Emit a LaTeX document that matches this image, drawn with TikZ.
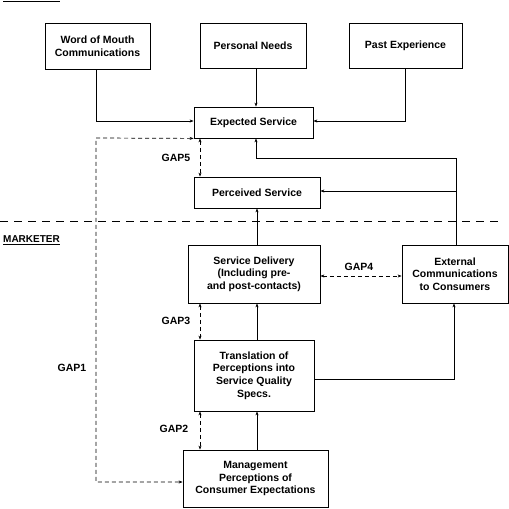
\documentclass[tikz,border=0pt]{standalone}
\usepackage{fontspec}
\setmainfont{Liberation Sans}
\usetikzlibrary{arrows.meta}
\begin{document}
\begin{tikzpicture}[x=1pt,y=-1pt,
  box/.style={draw,line width=0.8pt,align=center,inner sep=1pt,font=\fontsize{10.5}{12.7}\selectfont\bfseries},
  arr/.style={line width=0.7pt,-{Stealth[length=4pt,width=3pt]}},
  ln/.style={line width=0.7pt},
  gap/.style={line width=0.7pt,dash pattern=on 4pt off 3pt,{Stealth[length=4pt,width=3pt]}-{Stealth[length=4pt,width=3pt]}},
  lbl/.style={font=\fontsize{10.5}{11}\selectfont\bfseries}]
\useasboundingbox (0,0) rectangle (509,509);
% boxes
\node[box,minimum width=105pt,minimum height=46pt] (wom) at (97.5,46) {Word of Mouth\\Communications};
\node[box,minimum width=106pt,minimum height=45pt] (pn) at (253,45.5) {Personal Needs};
\node[box,minimum width=113pt,minimum height=45pt] (pe) at (405.5,45.5) {Past Experience};
\node[box,minimum width=119pt,minimum height=31pt] (es) at (253.5,122.5) {Expected Service};
\node[box,minimum width=126pt,minimum height=31pt] (ps) at (257,192.5) {Perceived Service};
\node[box,minimum width=132pt,minimum height=58pt] (sd) at (254,274) {Service Delivery\\(Including pre-\\and post-contacts)};
\node[box,minimum width=106pt,minimum height=58pt] (ec) at (455,274) {External\\Communications\\to Consumers};
\node[box,minimum width=120pt,minimum height=71pt] (tr) at (254,375.5) {Translation of\\Perceptions into\\Service Quality\\Specs.};
\node[box,minimum width=145pt,minimum height=57pt] (mg) at (255.5,478.5) {Management\\Perceptions of\\Consumer Expectations};
% labels
\node[lbl] (g5) at (176,158) {GAP5};
\node[lbl] (g4) at (359,267) {GAP4};
\node[lbl] (g3) at (176,321) {GAP3};
\node[lbl] (g2) at (174,429) {GAP2};
\node[lbl] (g1) at (72,368) {GAP1};
\node[lbl,anchor=west,inner sep=0pt,font=\fontsize{10}{11}\selectfont\bfseries] (mk) at (3,240) {\underline{MARKETER}};
% top-left cropped underline
\coordinate (ua) at (3,1);
\coordinate (ub) at (60,1);
\draw[line width=0.7pt] (ua) -- (ub);
% separator
\coordinate (sa) at (0,221);
\coordinate (sb) at (500,221);
\draw[line width=0.7pt,dash pattern=on 8pt off 6pt] (sa) -- (sb);
% top connectors
\draw[arr] ([xshift=-1.5pt]wom.south) |- ([yshift=1.5pt]es.west);
\draw[arr] ([xshift=3pt]pn.south) -- ([xshift=3pt]pn.south |- es.north);
\draw[arr] (pe.south) |- ([yshift=1.5pt]es.east);
% vertical chain
\coordinate (cx) at (257,0);
\draw[arr] (cx |- sd.north) -- (cx |- ps.south);
\draw[arr] (cx |- tr.north) -- (cx |- sd.south);
\draw[arr] (cx |- mg.north) -- (cx |- tr.south);
% external comms
\coordinate (ej) at (456,158);
\coordinate (ek) at (256,158);
\draw[arr] (ej |- ec.north) -- (ej) -- (ek) -- (ek |- es.south);
\coordinate (em) at (456,191);
\draw[arr] (em) -- (em -| ps.east);
\coordinate (tn) at (454,379);
\draw[arr] (tn -| tr.east) -- (tn) -- (tn |- ec.south);
% gaps
\coordinate (gx) at (200,0);
\draw[gap] (gx |- es.south) -- (gx |- ps.north);
\draw[gap] (gx |- sd.south) -- (gx |- tr.north);
\draw[gap] (gx |- tr.south) -- (gx |- mg.north);
\coordinate (gy) at (0,276);
\draw[gap] (gy -| sd.east) -- (gy -| ec.west);
\coordinate (g1a) at (96,138);
\coordinate (g1b) at (96,482);
\draw[gap] (es.south west) -- (g1a) -- (g1b) -- (g1b -| mg.west);
\end{tikzpicture}
\end{document}
